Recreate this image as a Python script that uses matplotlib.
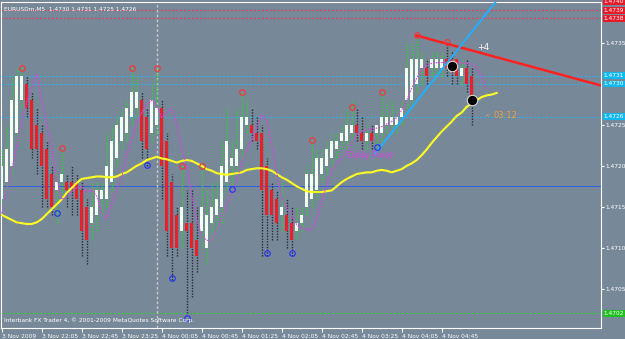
import matplotlib
matplotlib.use('Agg')
import matplotlib.pyplot as plt
from matplotlib.transforms import blended_transform_factory
from matplotlib import font_manager

# ---------------- data ----------------
opens = [1.4716,1.4718,1.4720,1.4724,1.4728,1.4730,1.4728,1.4725,1.4724,1.4722,
         1.4719,1.4717,1.4718,1.4718,1.4718,1.4718,1.4717,1.4715,1.4713,1.4714,
         1.4716,1.4716,1.4718,1.4721,1.4723,1.4724,1.4726,1.4727,1.4728,1.4726,
         1.4724,1.4725,1.4727,1.4723,1.4718,1.4714,1.4712,1.4713,1.4713,1.4711,
         1.4712,1.4710,1.4713,1.4714,1.4715,1.4718,1.4720,1.4720,1.4722,1.4725,
         1.4725,1.4724,1.4724,1.4720,1.4717,1.4716,1.4714,1.4714,1.4713,1.4712,
         1.4713,1.4715,1.4716,1.4717,1.4719,1.4720,1.4721,1.4722,1.4723,1.4723,
         1.4724,1.4725,1.4724,1.4723,1.4724,1.4724,1.4724,1.4725,1.4725,1.4725,
         1.4726,1.4728,1.4728,1.4730,1.4732,1.4732,1.4732,1.4732,1.4732,1.4733,
         1.4733,1.4733,1.4731,1.4732,1.4731]
highs = [1.4722,1.4725,1.4731,1.4732,1.4732,1.4731,1.4729,1.4727,1.4725,1.4723,
         1.4720,1.4719,1.4722,1.4719,1.4720,1.4719,1.4718,1.4716,1.4718,1.4718,
         1.4718,1.4724,1.4725,1.4726,1.4727,1.4728,1.4732,1.4731,1.4729,1.4727,
         1.4730,1.4732,1.4728,1.4724,1.4719,1.4715,1.4720,1.4717,1.4717,1.4715,
         1.4720,1.4717,1.4718,1.4718,1.4723,1.4727,1.4723,1.4727,1.4729,1.4728,
         1.4727,1.4726,1.4725,1.4721,1.4718,1.4717,1.4718,1.4716,1.4715,1.4715,
         1.4715,1.4720,1.4723,1.4722,1.4722,1.4723,1.4724,1.4724,1.4725,1.4727,
         1.4728,1.4727,1.4726,1.4725,1.4725,1.4725,1.4729,1.4728,1.4728,1.4727,
         1.4728,1.4735,1.4735,1.4736,1.4734,1.4733,1.4734,1.4734,1.4734,1.4735,
         1.4734,1.4733,1.4733,1.4733,1.4732]
lows = [1.4715,1.4717,1.4719,1.4723,1.4727,1.4726,1.4721,1.4719,1.4715,1.4715,
        1.4714,1.4713,1.4716,1.4715,1.4714,1.4714,1.4709,1.4708,1.4711,1.4712,
        1.4714,1.4715,1.4717,1.4720,1.4722,1.4723,1.4725,1.4726,1.4721,1.4720,
        1.4723,1.4724,1.4716,1.4709,1.4706,1.4709,1.4710,1.4702,1.4704,1.4707,
        1.4710,1.4708,1.4711,1.4712,1.4713,1.4717,1.4717,1.4719,1.4721,1.4724,
        1.4723,1.4722,1.4709,1.4709,1.4711,1.4711,1.4712,1.4710,1.4709,1.4711,
        1.4712,1.4714,1.4715,1.4716,1.4718,1.4719,1.4720,1.4721,1.4722,1.4722,
        1.4723,1.4723,1.4722,1.4722,1.4722,1.4722,1.4723,1.4724,1.4724,1.4724,
        1.4725,1.4727,1.4727,1.4729,1.4730,1.4730,1.4731,1.4731,1.4731,1.4731,
        1.4730,1.4730,1.4730,1.4729,1.4725]
closes = [1.4720,1.4722,1.4728,1.4731,1.4731,1.4727,1.4722,1.4722,1.4720,1.4716,
          1.4715,1.4718,1.4719,1.4717,1.4717,1.4716,1.4712,1.4711,1.4715,1.4717,
          1.4717,1.4720,1.4723,1.4725,1.4726,1.4727,1.4729,1.4729,1.4723,1.4722,
          1.4728,1.4727,1.4720,1.4712,1.4710,1.4710,1.4715,1.4712,1.4710,1.4709,
          1.4715,1.4714,1.4715,1.4716,1.4720,1.4723,1.4721,1.4722,1.4726,1.4726,
          1.4724,1.4723,1.4717,1.4714,1.4714,1.4713,1.4715,1.4712,1.4711,1.4713,
          1.4714,1.4719,1.4719,1.4721,1.4721,1.4722,1.4723,1.4723,1.4724,1.4725,
          1.4725,1.4724,1.4723,1.4724,1.4723,1.4725,1.4726,1.4726,1.4726,1.4726,
          1.4727,1.4732,1.4733,1.4733,1.4733,1.4731,1.4733,1.4733,1.4733,1.4732,
          1.4732,1.4731,1.4732,1.4730,1.4728]

ma_yellow = [1.47140,1.47137,1.47134,1.47131,1.47130,1.47129,1.47129,1.47131,1.47135,1.47141,
             1.47147,1.47153,1.47159,1.47167,1.47173,1.47179,1.47184,1.47185,1.47186,1.47187,
             1.47187,1.47186,1.47186,1.47187,1.47190,1.47192,1.47196,1.47200,1.47203,1.47207,
             1.47209,1.47211,1.47209,1.47208,1.47206,1.47204,1.47206,1.47207,1.47206,1.47203,
             1.47200,1.47196,1.47194,1.47191,1.47190,1.47189,1.47190,1.47191,1.47192,1.47195,
             1.47196,1.47197,1.47197,1.47196,1.47194,1.47190,1.47186,1.47183,1.47179,1.47175,
             1.47172,1.47169,1.47168,1.47168,1.47168,1.47169,1.47170,1.47175,1.47180,1.47184,
             1.47187,1.47190,1.47191,1.47192,1.47192,1.47194,1.47195,1.47194,1.47192,1.47194,
             1.47196,1.47200,1.47203,1.47207,1.47213,1.47220,1.47228,1.47235,1.47242,1.47248,
             1.47254,1.47261,1.47265,1.47272,1.47276,1.47280,1.47284,1.47286,1.47287,1.47289]

ma_magenta = [1.47142,1.47170,1.47195,1.47225,1.47256,1.47278,1.47295,1.47312,1.47282,1.47250,
              1.47223,1.47185,1.47159,1.47162,1.47168,1.47174,1.47175,1.47168,1.47171,1.47163,
              1.47143,1.47136,1.47153,1.47170,1.47186,1.47213,1.47231,1.47253,1.47265,1.47275,
              1.47280,1.47274,1.47259,1.47265,1.47270,1.47250,1.47219,1.47201,1.47164,1.47134,
              1.47115,1.47109,1.47109,1.47122,1.47137,1.47152,1.47167,1.47183,1.47203,1.47219,
              1.47231,1.47246,1.47262,1.47256,1.47225,1.47192,1.47162,1.47148,1.47140,1.47128,
              1.47124,1.47122,1.47122,1.47136,1.47157,1.47176,1.47195,1.47203,1.47209,1.47217,
              1.47228,1.47237,1.47242,1.47244,1.47245,1.47246,1.47248,1.47251,1.47254,1.47259,
              1.47268,1.47280,1.47295,1.47307,1.47318,1.47323,1.47325,1.47326,1.47326,1.47326,
              1.47326,1.47326,1.47326,1.47325,1.47324,1.47319,1.47309,1.47292]

up_fractal_bars = [4, 12, 26, 31, 36, 40, 48, 62, 70, 76, 83, 89]
up_fractal_prices = [1.47320, 1.47222, 1.47320, 1.47320, 1.47200, 1.47200,
                     1.47290, 1.47231, 1.47272, 1.47290, 1.47360, 1.47351]
down_fractal_bars = [11, 29, 34, 37, 46, 53, 58, 75]
down_fractal_prices = [1.47142, 1.47201, 1.47063, 1.47014, 1.47172,
                       1.47094, 1.47094, 1.47223]

signal_bars = [90, 94]
signal_prices = [1.47322, 1.47280]

tick_bars = [0, 8, 16, 24, 32, 40, 48, 56, 64, 72, 80, 88]
tick_labels = ["3 Nov 2009", "3 Nov 22:05", "3 Nov 22:45", "3 Nov 23:25",
               "4 Nov 00:05", "4 Nov 00:45", "4 Nov 01:25", "4 Nov 02:05",
               "4 Nov 02:45", "4 Nov 03:25", "4 Nov 04:05", "4 Nov 04:45"]
price_ticks = [1.4705, 1.4710, 1.4715, 1.4720, 1.4725, 1.4735]

red_levels = [1.4740, 1.4739, 1.4738]
cyan_levels = [1.4731, 1.4730, 1.4726]
green_levels = [1.4702]
blue_level = 1.47175
day_separator_bar = 31

red_trend = [(83, 1.47359), (119.9, 1.47298)]
cyan_trend = [(74.7, 1.47215), (89, 1.47325)]

# ---------------- style ----------------
BG = '#778899'
names = {f.name for f in font_manager.fontManager.ttflist}
NARROW = 'Liberation Sans Narrow' if 'Liberation Sans Narrow' in names else 'DejaVu Sans'
plt.rcParams['font.family'] = [NARROW, 'DejaVu Sans']
FS = 5.0 if NARROW != 'DejaVu Sans' else 4.2

fig = plt.figure(figsize=(6.25, 3.39), dpi=100, facecolor=BG)
W, H = 625, 339
ax = fig.add_axes([1 / W, 11 / H, 600 / W, 326 / H])
ax.set_facecolor(BG)
ax.set_xlim(-0.14, 119.86)
ax.set_ylim(1.47002, 1.47400)

# horizontal levels
for lv in red_levels:
    ax.axhline(lv, color='#ff3050', lw=0.8, ls=(0, (1.5, 2)), zorder=1)
for lv in cyan_levels:
    ax.axhline(lv, color='#20b8ff', lw=0.8, ls=(0, (1.5, 2)), zorder=1)
for lv in green_levels:
    ax.axhline(lv, color='#20e020', lw=0.8, ls=(0, (1.5, 2)), zorder=1)
ax.axhline(blue_level, color='#3060e0', lw=0.7, zorder=1)
ax.axvline(day_separator_bar, color='#c8c8c8', lw=1.0, ls=(0, (2, 1.5)), zorder=1)

# candles
xs = list(range(len(opens)))
for i in xs:
    o, h, l, c = opens[i], highs[i], lows[i], closes[i]
    bull = c >= o
    wick_col = '#2ad42a' if bull else '#2a2e33'
    ax.vlines(i, l, h, color=wick_col, lw=1.0, zorder=3, linestyles=(0, (1, 1)))
bodies_b = [abs(closes[i] - opens[i]) if closes[i] != opens[i] else 0.00002 for i in xs]
bottoms = [min(opens[i], closes[i]) for i in xs]
cols = ['#f2fff2' if closes[i] >= opens[i] else '#e8202a' for i in xs]
ax.bar(xs, bodies_b, bottom=bottoms, width=0.65, color=cols, zorder=4, linewidth=0)

# moving averages
ax.plot(range(len(ma_yellow)), ma_yellow, color='#ffff20', lw=1.5, zorder=5)
ax.plot(range(len(ma_magenta)), ma_magenta, color='#e040e8', lw=0.8,
        ls=(0, (1.5, 1)), zorder=5)

# trend lines
(x1, y1), (x2, y2) = red_trend
ax.plot([x1, x2], [y1, y2], color='#ff2020', lw=1.8, zorder=6, clip_on=True)
(x1, y1), (x2, y2) = cyan_trend
slope = (y2 - y1) / (x2 - x1)
x_end = 125
ax.plot([x1, x_end], [y1, y1 + slope * (x_end - x1)], color='#20b0ff', lw=1.4,
        zorder=6, clip_on=True)

# fractals
ax.plot(up_fractal_bars, up_fractal_prices, 'o', ms=4, mfc='none', mec='#ff3030',
        mew=0.8, zorder=7)
ax.plot(down_fractal_bars, down_fractal_prices, 'o', ms=4, mfc='none', mec='#2030ff',
        mew=0.8, zorder=7)
ax.plot(signal_bars, signal_prices, 'o', ms=7.5, mfc='black', mec='#d8d8d8',
        mew=0.8, zorder=8)

# axis styling
ax.yaxis.tick_right()
ax.set_yticks(price_ticks)
ax.set_yticklabels([f"{p:.4f}" for p in price_ticks])
ax.tick_params(axis='y', colors='white', labelsize=FS, length=2, width=0.8, pad=1)
ax.set_xticks(tick_bars)
ax.set_xticklabels(tick_labels, ha='left')
ax.tick_params(axis='x', colors='white', labelsize=FS, length=3, width=0.8, pad=1)
for s in ax.spines.values():
    s.set_color('white')
    s.set_linestyle((0, (2, 1)))
    s.set_linewidth(0.8)

# right-side price labels
tr = blended_transform_factory(ax.transAxes, ax.transData)
def plabel(p, fc):
    ax.text(1.004, p, f"{p:.4f}", transform=tr, fontsize=FS, color='white',
            va='center', ha='left', zorder=10, clip_on=False,
            bbox=dict(boxstyle='square,pad=0.15', fc=fc, ec='none'))
for lv in red_levels:
    plabel(lv, '#e81a2a')
for lv in cyan_levels:
    plabel(lv, '#10b8f0')
for lv in green_levels:
    plabel(lv, '#20c020')

# texts
ax.text(0.005, 0.985, "EURUSDm,M5  1.4730 1.4731 1.4725 1.4726", transform=ax.transAxes,
        fontsize=FS, color='white', va='top', ha='left', zorder=10)
ax.text(0.005, 0.015, "Interbank FX Trader 4, \u00a9 2001-2009 MetaQuotes Software Corp.",
        transform=ax.transAxes, fontsize=FS, color='white', va='bottom', ha='left', zorder=10)
ax.text(69.3, 1.47212, "Daily Pivot", fontsize=6, color='#e040e8', va='center', ha='left', zorder=9)
ax.text(95, 1.47345, "+4", fontsize=6, color='white', va='center', ha='left', zorder=9)
ax.text(96.5, 1.47262, "<", fontsize=FS, color='#f0a040', va='center', ha='left', zorder=9)
ax.text(98.3, 1.47262, "03:12", fontsize=6, color='#f0a040', va='center', ha='left', zorder=9)

fig.savefig('out.png', dpi=100, facecolor=BG)
